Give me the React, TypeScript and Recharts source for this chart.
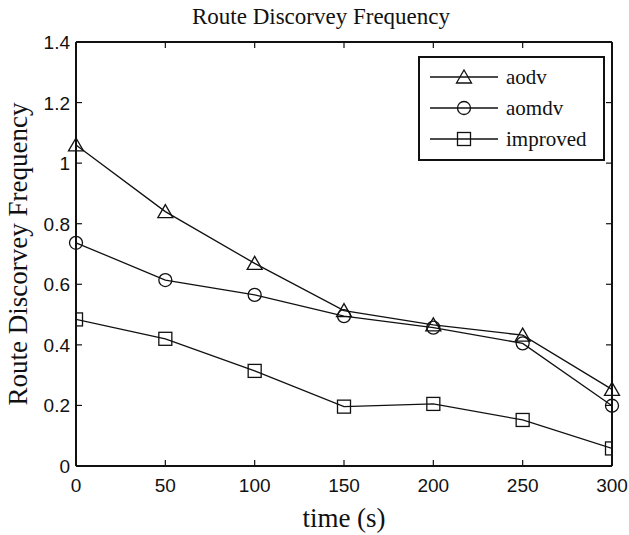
import React from 'react';
import { LineChart, Line, XAxis, YAxis, Label } from 'recharts';

// time axis (s)
const times = [0, 50, 100, 150, 200, 250, 300];
// route discovery frequency per protocol
const aodv = [1.06, 0.84, 0.669, 0.513, 0.466, 0.432, 0.253];
const aomdv = [0.737, 0.614, 0.565, 0.495, 0.457, 0.405, 0.199];
const improved = [0.484, 0.42, 0.314, 0.196, 0.205, 0.152, 0.058];

const xTicks = [0, 50, 100, 150, 200, 250, 300];
const yTicks = [0, 0.2, 0.4, 0.6, 0.8, 1, 1.2, 1.4];

const seriesNames = ['aodv', 'aomdv', 'improved'];
const markers = ['triangle', 'circle', 'square'];

const data = times.map((t, i) => ({
  time: t,
  aodv: aodv[i],
  aomdv: aomdv[i],
  improved: improved[i],
}));

const INK = '#111';
const SANS = '"Liberation Sans", Arial, sans-serif';
const SERIF = '"Liberation Serif", "Times New Roman", serif';

function Marker({ kind, cx, cy }: { kind: string; cx: number; cy: number }) {
  if (kind === 'triangle') {
    return (
      <path
        d={`M${cx},${cy - 7} L${cx + 7.5},${cy + 6} L${cx - 7.5},${cy + 6} Z`}
        fill="none"
        stroke={INK}
        strokeWidth={1.3}
      />
    );
  }
  if (kind === 'circle') {
    return <circle cx={cx} cy={cy} r={6.5} fill="none" stroke={INK} strokeWidth={1.3} />;
  }
  return <rect x={cx - 6.5} y={cy - 6.5} width={13} height={13} fill="none" stroke={INK} strokeWidth={1.3} />;
}

const makeDot = (kind: string) => (props: any) => {
  const { cx, cy, index } = props;
  return (
    <g key={`${kind}-${index}`}>
      <Marker kind={kind} cx={cx} cy={cy} />
    </g>
  );
};

const BottomTick = (props: any) => {
  const { x, y, payload } = props;
  return (
    <g>
      <line x1={x} y1={y} x2={x} y2={y - 6} stroke={INK} strokeWidth={1.2} />
      <text x={x} y={y + 26} textAnchor="middle" fontFamily={SANS} fontSize={19} fill={INK}>
        {payload.value}
      </text>
    </g>
  );
};

const TopTick = (props: any) => {
  const { x, y } = props;
  return <line x1={x} y1={y} x2={x} y2={y + 6} stroke={INK} strokeWidth={1.2} />;
};

const LeftTick = (props: any) => {
  const { x, y, payload } = props;
  return (
    <g>
      <line x1={x} y1={y} x2={x + 6} y2={y} stroke={INK} strokeWidth={1.2} />
      <text x={x - 6} y={y + 7} textAnchor="end" fontFamily={SANS} fontSize={19} fill={INK}>
        {String(payload.value)}
      </text>
    </g>
  );
};

const RightTick = (props: any) => {
  const { x, y } = props;
  return <line x1={x} y1={y} x2={x - 6} y2={y} stroke={INK} strokeWidth={1.2} />;
};

function LegendBox() {
  const rows = [21, 52, 83];
  return (
    <svg width={188} height={106} style={{ display: 'block' }}>
      <rect x={1} y={1} width={185} height={103} fill="#fff" stroke={INK} strokeWidth={2} />
      {seriesNames.map((name, i) => (
        <g key={name}>
          <line x1={12} y1={rows[i]} x2={80} y2={rows[i]} stroke={INK} strokeWidth={1.3} />
          <Marker kind={markers[i]} cx={46} cy={rows[i]} />
          <text x={88} y={rows[i] + 7} fontFamily={SERIF} fontSize={21} fill={INK}>
            {name}
          </text>
        </g>
      ))}
    </svg>
  );
}

const axisLine = { stroke: INK, strokeWidth: 2 };

export default function App() {
  return (
    <div style={{ position: 'absolute', left: 0, top: 0, width: 629, height: 535, background: '#fff' }}>
      <div
        style={{
          position: 'absolute',
          left: 321,
          top: 5,
          transform: 'translateX(-50%)',
          whiteSpace: 'nowrap',
          fontFamily: SERIF,
          fontSize: 23,
          lineHeight: '23px',
          color: INK,
        }}
      >
        Route Discorvey Frequency
      </div>
      <LineChart
        width={629}
        height={535}
        data={data}
        margin={{ top: 41, right: 16, left: 16, bottom: 0 }}
      >
        <XAxis
          dataKey="time"
          type="number"
          domain={[0, 300]}
          ticks={xTicks}
          height={69}
          axisLine={axisLine}
          tickLine={false}
          tickSize={0}
          tickMargin={0}
          tick={<BottomTick />}
          interval={0}
        >
          <Label
            content={(p: any) => {
              const vb = p.viewBox;
              return (
                <text x={vb.x + vb.width / 2} y={527} textAnchor="middle" fontFamily={SERIF} fontSize={27} fill={INK}>
                  time (s)
                </text>
              );
            }}
          />
        </XAxis>
        <XAxis
          xAxisId="top"
          dataKey="time"
          orientation="top"
          type="number"
          domain={[0, 300]}
          allowDataOverflow
          ticks={xTicks}
          height={1}
          axisLine={axisLine}
          tickLine={false}
          tickSize={0}
          tickMargin={0}
          tick={<TopTick />}
          interval={0}
        />
        <YAxis
          type="number"
          domain={[0, 1.4]}
          ticks={yTicks}
          width={60}
          axisLine={axisLine}
          tickLine={false}
          tickSize={0}
          tickMargin={0}
          tick={<LeftTick />}
          interval={0}
        >
          <Label
            content={(p: any) => {
              const vb = p.viewBox;
              const cx = 27;
              const cy = vb.y + vb.height / 2;
              return (
                <text
                  x={cx}
                  y={cy}
                  transform={`rotate(-90 ${cx} ${cy})`}
                  textAnchor="middle"
                  fontFamily={SERIF}
                  fontSize={27}
                  fill={INK}
                >
                  Route Discorvey Frequency
                </text>
              );
            }}
          />
        </YAxis>
        <YAxis
          yAxisId="right"
          orientation="right"
          type="number"
          domain={[0, 1.4]}
          allowDataOverflow
          ticks={yTicks}
          width={1}
          axisLine={axisLine}
          tickLine={false}
          tickSize={0}
          tickMargin={0}
          tick={<RightTick />}
          interval={0}
        />
        {seriesNames.map((name, i) => (
          <Line
            key={name}
            type="linear"
            dataKey={name}
            xAxisId={i === 2 ? 'top' : 0}
            yAxisId={i === 2 ? 'right' : 0}
            stroke={INK}
            strokeWidth={1.3}
            dot={makeDot(markers[i])}
            activeDot={false}
            isAnimationActive={false}
          />
        ))}
      </LineChart>
      <div style={{ position: 'absolute', left: 418, top: 56 }}>
        <LegendBox />
      </div>
    </div>
  );
}
